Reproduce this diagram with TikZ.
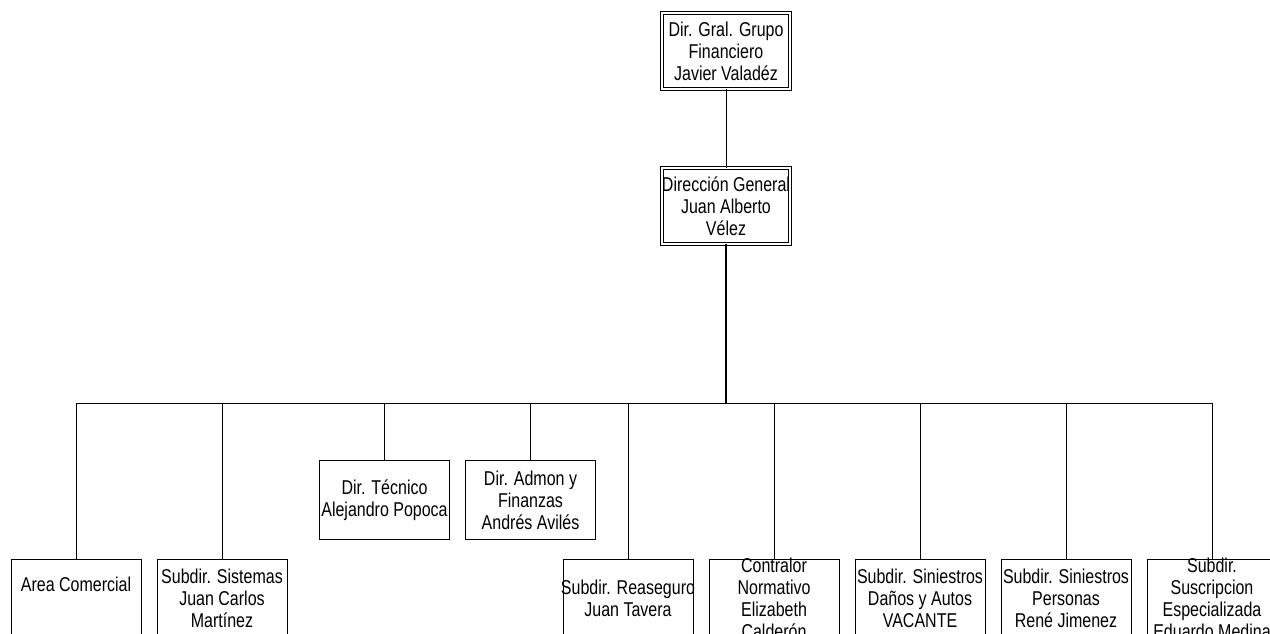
\documentclass[tikz,border=0pt]{standalone}
\usepackage{fontspec}
\setmainfont[FakeStretch=0.8]{Liberation Sans}
\begin{document}
\begin{tikzpicture}[x=1pt,y=-1pt,
  box/.style={draw, line width=1pt, minimum width=130pt, minimum height=79pt, inner sep=0pt},
  topbox/.style={draw, line width=0.9pt, double, double distance=2.4pt, minimum width=128pt, minimum height=76pt, inner sep=0pt},
  lbl/.style={align=center, inner sep=0pt, font=\fontsize{20}{22}\selectfont},
  link/.style={line width=1pt},
  trunk/.style={line width=2pt}]
\useasboundingbox (0,0) rectangle (1270,634);
\node[topbox, label={[lbl]center:{Dir. Gral. Grupo\\Financiero\\Javier Valadéz}}] (g) at (726,51) {};
\node[topbox, label={[lbl]center:{Dirección General\\Juan Alberto\\Vélez}}] (d) at (726,206) {};
\coordinate (bus) at (726,403);
\node[box, label={[lbl]center:{Area Comercial\\\strut}}] (ac) at (76,598.5) {};
\node[box, label={[lbl]center:{Subdir. Sistemas\\Juan Carlos\\Martínez}}] (ss) at (222,598.5) {};
\node[box, label={[lbl]center:{Dir. Técnico\\Alejandro Popoca}}] (dt) at (384.5,500) {};
\node[box, label={[lbl]center:{Dir. Admon y\\Finanzas\\Andrés Avilés}}] (da) at (530.5,500) {};
\node[box, label={[lbl]center:{Subdir. Reaseguro\\Juan Tavera}}] (re) at (628,598.5) {};
\node[box, label={[lbl]center:{Contralor\\Normativo\\Elizabeth\\Calderón}}] (co) at (774,598.5) {};
\node[box, label={[lbl]center:{Subdir. Siniestros\\Daños y Autos\\VACANTE}}] (sd) at (920,598.5) {};
\node[box, label={[lbl]center:{Subdir. Siniestros\\Personas\\René Jimenez}}] (sp) at (1066,598.5) {};
\node[box, label={[lbl]center:{Subdir.\\Suscripcion\\Especializada\\Eduardo Medina}}] (su) at (1212,598.5) {};
\draw[link] (g) -- (d);
\draw[trunk] (d) -- (bus);
\foreach \n in {ac,ss,dt,da,re,co,sd,sp,su} \draw[link] (bus) -| (\n.north);
\end{tikzpicture}
\end{document}
